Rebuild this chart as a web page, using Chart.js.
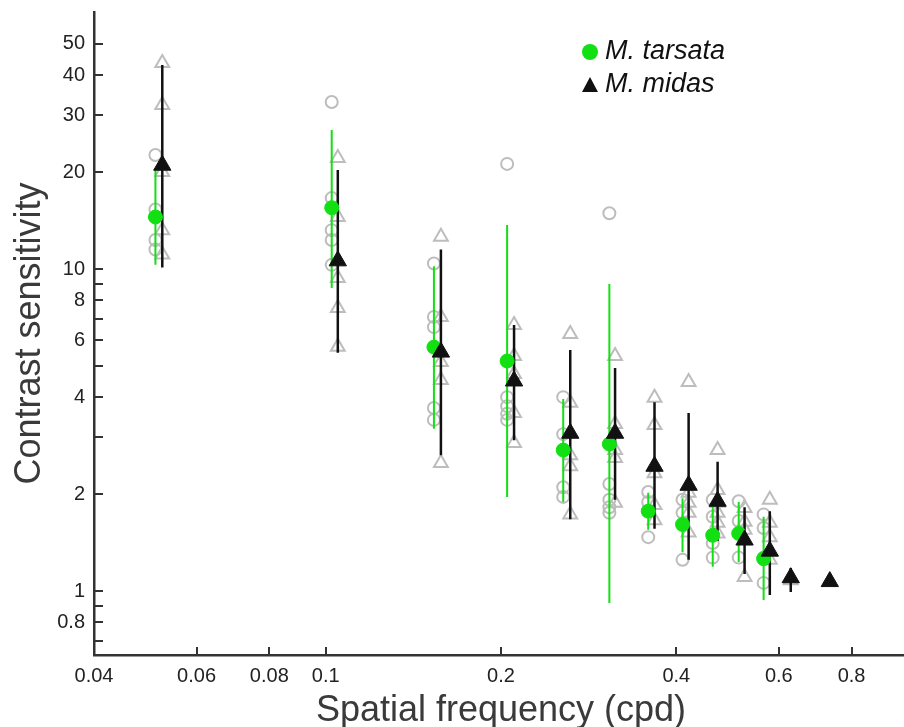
<!DOCTYPE html>
<html>
<head>
<meta charset="utf-8">
<title>Contrast sensitivity</title>
<script src="https://cdn.jsdelivr.net/npm/chart.js@4.4.0/dist/chart.umd.min.js"></script>
<style>
  html, body { margin: 0; padding: 0; background: #fff; overflow: hidden; }
  #wrap { position: relative; width: 919px; height: 727px; }
  .leg { position: absolute; left: 605px; font: italic 27px "Liberation Sans", Arial, sans-serif; line-height: 27px; color: #111; white-space: nowrap; }
  .dot { position: absolute; left: 582px; top: 44px; width: 16px; height: 16px; border-radius: 50%; background: #12e012; }
  .tri { position: absolute; left: 582px; top: 77px; width: 0; height: 0;
         border-left: 8px solid transparent; border-right: 8px solid transparent; border-bottom: 15px solid #111; }
</style>
</head>
<body>
<div id="wrap">
  <canvas id="csf" width="919" height="727"></canvas>
  <div class="dot"></div><div class="leg" style="top:37px">M. tarsata</div>
  <div class="tri"></div><div class="leg" style="top:70px">M. midas</div>
</div>
<script>
// M. tarsata (green): mean and error bar per spatial frequency
const tarsataFreq = [0.0510, 0.1024, 0.1534, 0.2049, 0.2558, 0.307, 0.358, 0.410, 0.462, 0.512, 0.565]
const tarsataMean = [14.5, 15.5, 5.72, 5.18, 2.74, 2.86, 1.77, 1.61, 1.49, 1.51, 1.26]
const tarsataLow  = [10.3, 8.73, 3.19, 1.96, 1.89, 0.918, 1.55, 1.32, 1.19, 1.23, 0.938]
const tarsataHigh = [20.3, 27.0, 10.2, 13.7, 3.95, 8.98, 2.02, 1.94, 1.88, 1.89, 1.70]

// M. midas (black)
const midasFreq = [0.0524, 0.1049, 0.1577, 0.2106, 0.263, 0.314, 0.367, 0.420, 0.471, 0.524, 0.579, 0.629, 0.734]
const midasMean = [21.0, 10.6, 5.52, 4.49, 3.09, 3.09, 2.44, 2.13, 1.90, 1.44, 1.33, 1.10, 1.07]
const midasLow  = [10.1, 5.49, 2.64, 2.94, 1.67, 1.92, 1.56, 1.25, 1.43, 1.13, 0.972, 0.993, null]
const midasHigh = [43.0, 20.3, 11.5, 6.70, 5.60, 4.93, 3.86, 3.57, 2.52, 1.82, 1.77, 1.18, null]

// individual animals (grey open markers)
const tarsataIndiv = [
  [22.6, 15.3, 12.3, 11.5],
  [33.0, 16.6, 13.2, 12.3, 10.3],
  [10.4, 7.1, 6.6, 3.7, 3.4],
  [21.2, 4.0, 3.75, 3.55, 3.4],
  [4.0, 3.07, 2.10, 1.96],
  [14.9, 2.15, 1.92, 1.82, 1.75],
  [2.03, 1.89, 1.47],
  [1.92, 1.75, 1.25],
  [1.92, 1.70, 1.41, 1.27],
  [1.90, 1.65, 1.27],
  [1.73, 1.57, 1.27, 1.06]
]
const midasIndiv = [
  [43.6, 32.3, 20.0, 13.2, 11.1],
  [22.1, 14.5, 9.38, 7.57, 5.73],
  [12.6, 7.1, 5.14, 4.52, 2.50],
  [6.70, 5.37, 4.72, 3.57, 2.88],
  [6.28, 3.84, 2.64, 2.44, 1.73],
  [5.37, 3.30, 2.74, 2.59, 1.88],
  [3.98, 3.28, 2.32, 1.85, 1.66],
  [4.46, 2.02, 1.88, 1.75, 1.52],
  [2.74, 2.06, 1.88, 1.75, 1.63, 1.51],
  [1.81, 1.64, 1.55, 1.105],
  [1.92, 1.63, 1.47, 1.25],
  [1.10, 1.08],
  []
]

const xTicks = [0.04, 0.06, 0.08, 0.1, 0.2, 0.4, 0.6, 0.8, 1]
const xLabels = ['0.04', '0.06', '0.08', '0.1', '0.2', '0.4', '0.6', '0.8', '1']
const yTicks = [0.7, 0.8, 0.9, 1, 2, 3, 4, 5, 6, 7, 8, 9, 10, 20, 30, 40, 50]
const yLabels = ['', '0.8', '', '1', '2', '', '4', '', '6', '', '8', '', '10', '20', '30', '40', '50']

const green = '#12e012'
const black = '#111111'
const grey = '#bdbdbd'
const fontFamily = '"Liberation Sans", Arial, Helvetica, sans-serif'

function points (freq, values) {
  return freq.map((f, i) => ({ x: f, y: values[i] }))
}

function scatterOf (freq, lists) {
  const out = []
  freq.forEach((f, i) => lists[i].forEach(v => out.push({ x: f, y: v })))
  return out
}

function errorBars (freq, low, high) {
  const out = []
  freq.forEach((f, i) => {
    if (low[i] == null) return
    out.push({ x: f, y: low[i] }, { x: f, y: high[i] }, { x: f, y: null })
  })
  return out
}

// tick marks pointing into the plot, drawn from the axis lines
const innerTicks = {
  id: 'innerTicks',
  afterDatasetsDraw (chart) {
    const { ctx, scales } = chart
    const axisY = scales.x.top
    const axisX = scales.y.right
    ctx.save()
    ctx.strokeStyle = '#333'
    ctx.lineWidth = 2
    ctx.beginPath()
    xTicks.forEach(v => {
      if (v === xTicks[0] || v === 1) return
      const px = Math.round(scales.x.getPixelForValue(v))
      ctx.moveTo(px, axisY)
      ctx.lineTo(px, axisY - 8)
    })
    yTicks.forEach(v => {
      const py = Math.round(scales.y.getPixelForValue(v))
      ctx.moveTo(axisX, py)
      ctx.lineTo(axisX + 9, py)
    })
    ctx.stroke()
    ctx.restore()
  }
}

new Chart(document.getElementById('csf'), {
  type: 'scatter',
  data: {
    datasets: [
      {
        label: 'M. midas',
        data: points(midasFreq, midasMean),
        pointStyle: 'triangle',
        pointRadius: 10,
        backgroundColor: black,
        borderColor: black,
        borderWidth: 1,
        order: 0
      },
      {
        label: 'M. tarsata',
        data: points(tarsataFreq, tarsataMean),
        pointStyle: 'circle',
        pointRadius: 7,
        backgroundColor: green,
        borderColor: green,
        borderWidth: 1,
        order: 1
      },
      {
        label: 'midas error',
        data: errorBars(midasFreq, midasLow, midasHigh),
        showLine: true,
        spanGaps: false,
        pointRadius: 0,
        borderColor: black,
        borderWidth: 2.5,
        order: 2
      },
      {
        label: 'tarsata error',
        data: errorBars(tarsataFreq, tarsataLow, tarsataHigh),
        showLine: true,
        spanGaps: false,
        pointRadius: 0,
        borderColor: green,
        borderWidth: 2,
        order: 3
      },
      {
        label: 'midas individuals',
        data: scatterOf(midasFreq, midasIndiv),
        pointStyle: 'triangle',
        pointRadius: 8,
        backgroundColor: 'rgba(0,0,0,0)',
        borderColor: grey,
        borderWidth: 2,
        order: 4
      },
      {
        label: 'tarsata individuals',
        data: scatterOf(tarsataFreq, tarsataIndiv),
        pointStyle: 'circle',
        pointRadius: 6,
        backgroundColor: 'rgba(0,0,0,0)',
        borderColor: grey,
        borderWidth: 2,
        order: 5
      }
    ]
  },
  options: {
    responsive: false,
    animation: false,
    layout: { padding: { top: 12, right: 0, bottom: 0, left: 0 } },
    plugins: {
      legend: { display: false },
      tooltip: { enabled: false }
    },
    scales: {
      x: {
        type: 'logarithmic',
        position: 'bottom',
        bounds: 'data',
        min: 0.04,
        max: 1,
        afterBuildTicks: scale => { scale.ticks = xTicks.map(v => ({ value: v })) },
        afterFit: scale => {
          scale.height = 72
          scale.paddingRight = 0
        },
        grid: { display: false, drawTicks: false },
        border: { display: true, color: '#333', width: 2.5 },
        ticks: {
          autoSkip: false,
          maxRotation: 0,
          padding: 9,
          color: '#222',
          font: { family: fontFamily, size: 20 },
          callback: v => xLabels[xTicks.indexOf(v)]
        },
        title: {
          display: true,
          text: 'Spatial frequency (cpd)',
          color: '#3a3a3a',
          font: { family: fontFamily, size: 36, lineHeight: 0.9 },
          padding: { top: 0, bottom: 0 }
        }
      },
      y: {
        type: 'logarithmic',
        bounds: 'data',
        min: 0.633,
        max: 62.8,
        afterBuildTicks: scale => { scale.ticks = yTicks.map(v => ({ value: v })) },
        afterFit: scale => {
          scale.width = 94
          scale.paddingTop = 0
          scale.paddingBottom = 0
        },
        grid: { display: false, drawTicks: false },
        border: { display: true, color: '#333', width: 2.5 },
        ticks: {
          autoSkip: false,
          padding: 9,
          color: '#222',
          font: { family: fontFamily, size: 20 },
          callback: v => yLabels[yTicks.indexOf(v)]
        },
        title: {
          display: true,
          text: 'Contrast sensitivity',
          color: '#3a3a3a',
          font: { family: fontFamily, size: 36 },
          padding: { top: 8, bottom: 0 }
        }
      }
    }
  },
  plugins: [innerTicks]
})
</script>
</body>
</html>
